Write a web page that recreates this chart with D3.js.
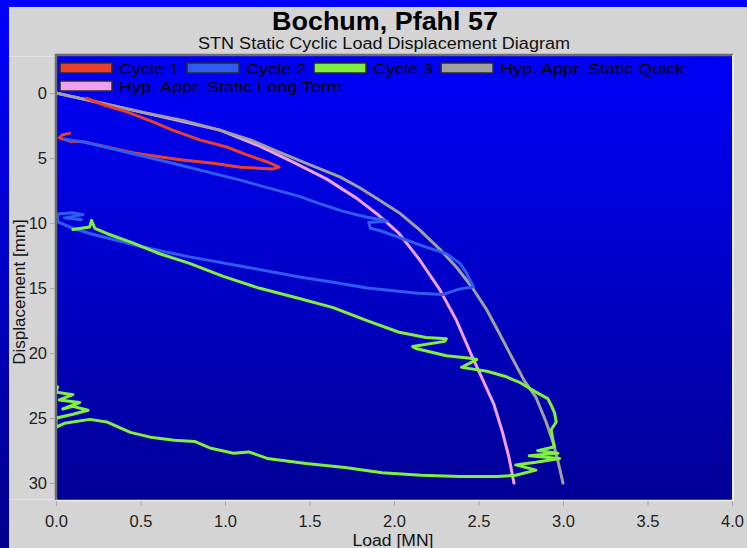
<!DOCTYPE html>
<html><head><meta charset="utf-8">
<script src="https://cdn.jsdelivr.net/npm/d3@7"></script>
<style>
body{margin:0;background:#0000ff;}
svg{display:block;font-family:"Liberation Sans",Arial,sans-serif;}
</style>
</head><body>
<svg id="c" width="747" height="548"></svg>
<script>
// ---------- data ----------
const titleText = "Bochum, Pfahl 57";
const subtitleText = "STN Static Cyclic Load Displacement Diagram";
const xLabelText = "Load [MN]";
const yLabelText = "Displacement [mm]";
const xTickValues = [0, 0.5, 1.0, 1.5, 2.0, 2.5, 3.0, 3.5, 4.0];
const yTickValues = [0, 5, 10, 15, 20, 25, 30];
const seriesNames = ["Cycle 1", "Cycle 2", "Cycle 3", "Hyp. Appr. Static Quick", "Hyp. Appr. Static Long Term"];
const seriesColors = ["#e8402c", "#2e5cf2", "#80f040", "#a0a0a0", "#f0a0f0"];

// [load MN, displacement mm]
const cycle1 = [[0.18,0.4],[0.28,0.9],[0.42,1.45],[0.57,2.2],[0.69,2.85],[0.85,3.6],[1.01,4.15],[1.13,4.75],[1.25,5.3],[1.32,5.7],[1.28,5.85],[1.09,5.7],[0.93,5.4],[0.75,5.15],[0.61,4.9],[0.46,4.6],[0.30,4.15],[0.16,3.75],[0.08,3.7],[0.02,3.45],[0.04,3.2],[0.08,3.1]];
const cycle2 = [[0.05,3.55],[0.16,3.75],[0.4,4.5],[0.69,5.4],[1.09,6.7],[1.44,7.95],[1.56,8.5],[1.70,9.1],[1.84,9.55],[1.93,9.75],[1.96,9.85],[1.85,9.95],[1.86,10.4],[1.91,10.55],[2.03,11.1],[2.19,11.85],[2.31,12.35],[2.39,13.1],[2.43,13.85],[2.45,14.4],[2.47,14.9],[2.38,15.1],[2.29,15.5],[2.14,15.4],[1.84,15.0],[1.64,14.55],[1.44,14.15],[1.09,13.3],[0.79,12.6],[0.5,11.8],[0.2,10.8],[0.08,10.3],[0.01,9.9],[0.01,9.3],[0.1,9.2],[0.16,9.35],[0.05,9.6],[0.15,9.75]];
const cycle3 = [[0.1,10.5],[0.2,10.3],[0.21,9.8],[0.23,10.4],[0.3,10.8],[0.45,11.5],[0.6,12.3],[0.79,13.1],[0.99,14.1],[1.2,15.0],[1.44,15.8],[1.64,16.5],[1.84,17.5],[2.03,18.4],[2.19,18.8],[2.31,18.9],[2.30,19.1],[2.11,19.5],[2.13,19.65],[2.31,20.2],[2.45,20.4],[2.49,20.5],[2.40,21.1],[2.55,21.4],[2.66,21.8],[2.75,22.3],[2.84,23.0],[2.91,23.5],[2.93,24.0],[2.95,24.6],[2.96,25.3],[2.93,25.9],[2.94,26.7],[2.95,27.2],[2.85,27.5],[2.97,27.7],[2.80,27.9],[2.98,28.1],[2.84,28.4],[2.72,28.6],[2.84,29.0],[2.72,29.4],[2.61,29.5],[2.39,29.5],[2.16,29.4],[1.93,29.2],[1.71,28.8],[1.48,28.5],[1.25,28.1],[1.14,27.6],[1.05,27.7],[0.91,27.3],[0.82,26.8],[0.7,26.7],[0.57,26.5],[0.44,26.1],[0.30,25.3],[0.2,25.1],[0.05,25.4],[0.0,25.7],[0.0,25.0],[0.1,24.7],[0.19,24.4],[0.1,24.1],[0.04,24.3],[0.14,23.8],[0.02,23.6],[0.1,23.2],[0.0,23.0],[0.01,22.6]];
const hypQuick = [[0,0],[0.25,0.7],[0.5,1.45],[0.75,2.1],[0.97,2.85],[1.15,3.6],[1.32,4.55],[1.5,5.5],[1.68,6.45],[1.8,7.3],[1.91,8.2],[2.03,9.2],[2.15,10.5],[2.27,12.0],[2.37,13.4],[2.46,14.9],[2.55,16.7],[2.62,18.4],[2.70,20.4],[2.77,22.1],[2.84,23.4],[2.90,25.3],[2.94,26.8],[2.97,28.3],[3.0,30]];
const hypLong = [[0,0],[0.5,1.45],[0.97,2.85],[1.2,4.05],[1.4,5.3],[1.6,6.6],[1.78,8.1],[1.9,9.3],[2.03,10.8],[2.15,12.8],[2.27,15.1],[2.37,17.5],[2.46,20.2],[2.53,22.2],[2.59,23.9],[2.64,26.0],[2.68,28.0],[2.71,30]];

// ---------- drawing ----------
const svg = d3.select("#c");
const defs = svg.append("defs");
const gOuter = defs.append("linearGradient").attr("id","gOuter").attr("x1",0).attr("y1",0).attr("x2",0).attr("y2",1);
gOuter.append("stop").attr("offset","0%").attr("stop-color","#0000ff");
gOuter.append("stop").attr("offset","100%").attr("stop-color","#00008c");
const gPlot = defs.append("linearGradient").attr("id","gPlot").attr("x1",0).attr("y1",0).attr("x2",0).attr("y2",1);
gPlot.append("stop").attr("offset","0%").attr("stop-color","#0000fa");
gPlot.append("stop").attr("offset","100%").attr("stop-color","#000096");

const W = 747, H = 548;
const P = {l:57, r:732, t:56, b:500};

svg.append("rect").attr("x",0).attr("y",0).attr("width",W).attr("height",H).attr("fill","url(#gOuter)");
svg.append("rect").attr("x",9).attr("y",7).attr("width",W-9).attr("height",H-7).attr("fill","#d4d4d4");

const x = d3.scaleLinear().domain([0,4]).range([56,732]);
const y = d3.scaleLinear().domain([-2.85,31.3]).range([P.t,P.b]);

defs.append("clipPath").attr("id","clip").append("rect")
  .attr("x",P.l).attr("y",P.t).attr("width",P.r-P.l).attr("height",P.b-P.t);

// plot background
svg.append("rect").attr("x",P.l).attr("y",P.t).attr("width",P.r-P.l).attr("height",P.b-P.t).attr("fill","url(#gPlot)");

// faint extension lines
svg.append("line").attr("x1",9).attr("x2",55).attr("y1",56.5).attr("y2",56.5).attr("stroke","#e2e2e2");
svg.append("line").attr("x1",9).attr("x2",55).attr("y1",499.5).attr("y2",499.5).attr("stroke","#e2e2e2");

// frame (sunken)
svg.append("path").attr("d",`M${P.l-1},${P.b} V${P.t-1} H${P.r+1}`).attr("fill","none").attr("stroke","#6e6e6e").attr("stroke-width",2.5);
svg.append("path").attr("d",`M${P.l-1},${P.b+0.5} H${P.r+1} V${P.t-1}`).attr("fill","none").attr("stroke","#f2f2f2").attr("stroke-width",1.5);

// axes
const yAxis = d3.axisLeft(y).tickValues(yTickValues).tickFormat(d3.format("d")).tickSize(5).tickPadding(3);
const gy = svg.append("g").attr("transform",`translate(${P.l-2},0)`).call(yAxis);
const xAxis = d3.axisBottom(x).tickValues(xTickValues).tickFormat(d3.format(".1f")).tickSize(5).tickPadding(9);
const gx = svg.append("g").attr("transform",`translate(0,${P.b+1})`).call(xAxis);
[gx,gy].forEach(g=>{
  g.select(".domain").remove();
  g.selectAll(".tick line").attr("stroke","#a8a8a8");
  g.selectAll(".tick text").attr("fill","#1e1e1e").style("font-size","16.5px").style("font-family","'Liberation Sans',Arial,sans-serif");
});

// series
const line = d3.line().x(d=>x(d[0])).y(d=>y(d[1]));
const seriesData = [cycle1, cycle2, cycle3, hypQuick, hypLong];
const drawOrder = [4,3,0,1,2];
const gS = svg.append("g").attr("clip-path","url(#clip)");
drawOrder.forEach(i=>{
  gS.append("path").datum(seriesData[i]).attr("d",line)
    .attr("fill","none").attr("stroke",seriesColors[i])
    .attr("stroke-width",3).attr("stroke-linejoin","round").attr("stroke-linecap","round");
});

// legend (flow layout)
const gL = svg.append("g");
let lx = 60, ly = 63;
const swW = 52, swH = 10, gapT = 7, gapI = 8, rowH = 18;
const legFont = 15.5, legStretch = 18 / 15.5;
seriesNames.forEach((name,i)=>{
  const t = gL.append("text").attr("font-size",legFont).attr("fill","#000").text(name);
  const tw = t.node().getComputedTextLength() * legStretch;
  t.attr("textLength",tw).attr("lengthAdjust","spacingAndGlyphs");
  if (lx + swW + gapT + tw > P.r - 2) { lx = 60; ly += rowH; }
  gL.append("rect").attr("x",lx).attr("y",ly).attr("width",swW).attr("height",swH)
    .attr("fill",seriesColors[i]).attr("stroke","#2a2a2a").attr("stroke-width",1.5);
  t.attr("x",lx+swW+gapT).attr("y",ly+swH/2+6);
  lx += swW + gapT + tw + gapI;
});

// titles
svg.append("text").attr("x",385).attr("y",30).attr("text-anchor","middle")
  .attr("font-size",25).attr("font-weight","bold").attr("fill","#000")
  .attr("textLength",226).attr("lengthAdjust","spacingAndGlyphs").text(titleText);
svg.append("text").attr("x",384).attr("y",49).attr("text-anchor","middle")
  .attr("font-size",16).attr("fill","#111")
  .attr("textLength",372).attr("lengthAdjust","spacingAndGlyphs").text(subtitleText);

// axis labels
svg.append("text").attr("x",393).attr("y",546).attr("text-anchor","middle")
  .attr("font-size",16).attr("fill","#111")
  .attr("textLength",81).attr("lengthAdjust","spacingAndGlyphs").text(xLabelText);
svg.append("text").attr("transform","translate(25,292) rotate(-90)").attr("text-anchor","middle")
  .attr("font-size",17).attr("fill","#111").text(yLabelText);
</script>
</body></html>
